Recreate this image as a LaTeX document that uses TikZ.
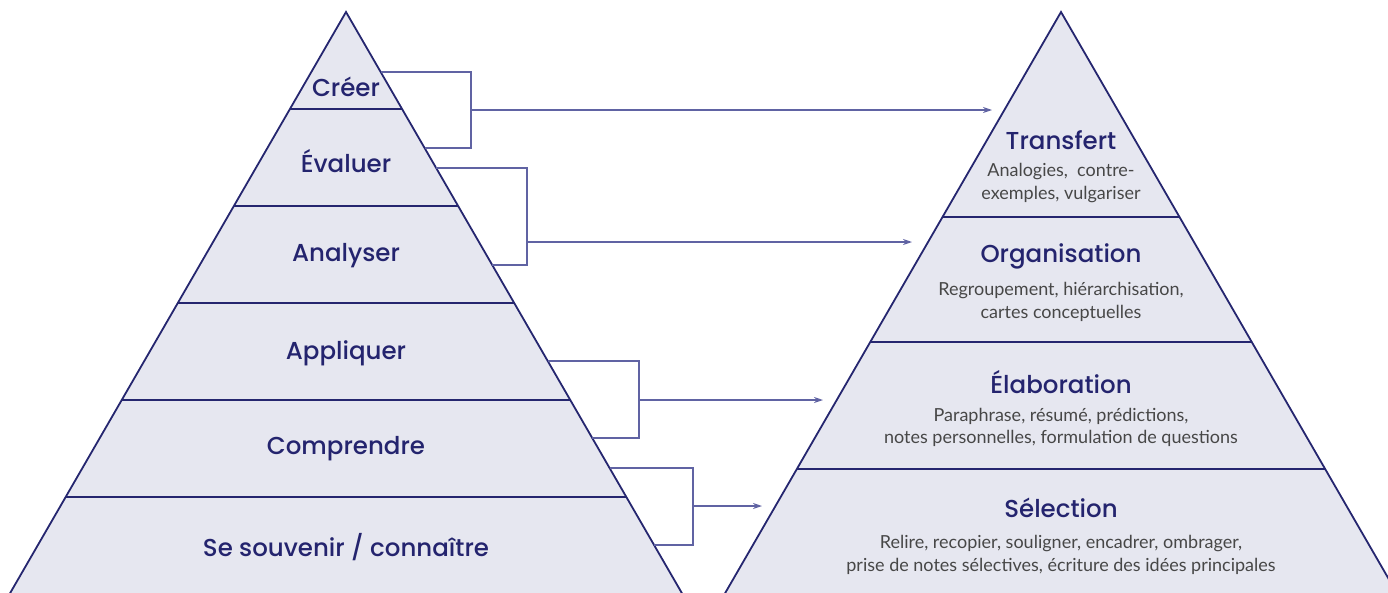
\documentclass[tikz,border=0pt]{standalone}
\usepackage{fontspec}
\setmainfont{Lato}
\newfontfamily\levelfont{Poppins Medium}
\usepackage{xcolor}
\usetikzlibrary{arrows.meta, calc}
\tikzset{>={Stealth[length=9pt, width=6pt]}}

\definecolor{pyramid_fill}{HTML}{E6E7F0}
\definecolor{pyramid_edge}{HTML}{25266F}
\definecolor{level_text}{HTML}{24246E}
\definecolor{desc_text}{HTML}{474747}
\definecolor{link_line}{HTML}{6063A3}

\def\slope{0.578}
\def\apextop{12}
\def\leftapex{346}
\def\rightapex{1061}
\def\pagewidth{1388}
\def\pagebottom{592}

\begin{document}
\begin{tikzpicture}[x=1pt, y=-1pt,
  pyramid/.style={fill=pyramid_fill, draw=pyramid_edge, line width=1.8pt, line join=miter},
  band/.style={draw=pyramid_edge, line width=1.6pt},
  link/.style={draw=link_line, line width=1.3pt},
  level/.style={font=\levelfont\fontsize{24.5}{24.5}\selectfont, text=level_text, inner sep=0pt},
  desc/.style={font=\fontsize{18}{22.5}\selectfont, text=desc_text, align=center, inner sep=0pt}]

\useasboundingbox (0,0) rectangle (\pagewidth,\pagebottom);

% Pyramids (cut by the page bottom)
\begin{scope}
\clip (0,0) rectangle (\pagewidth,\pagebottom);
\coordinate[](left_apex) at (\leftapex, \apextop) {};
\coordinate[](right_apex) at (\rightapex, \apextop) {};
\draw[pyramid] (left_apex) -- ({\leftapex - 600*\slope}, 612) -- ({\leftapex + 600*\slope}, 612) -- cycle;
\draw[pyramid] (right_apex) -- ({\rightapex - 600*\slope}, 612) -- ({\rightapex + 600*\slope}, 612) -- cycle;
\end{scope}

% Bands
\foreach \y in {109, 206, 303, 400, 497}{
    \pgfmathsetmacro{\half}{(\y - \apextop) * \slope}
    \draw[band] ({\leftapex - \half}, \y) -- ({\leftapex + \half}, \y);
}
\foreach \y in {217, 342, 469}{
    \pgfmathsetmacro{\half}{(\y - \apextop) * \slope}
    \draw[band] ({\rightapex - \half}, \y) -- ({\rightapex + \half}, \y);
}

% Left levels
\node[level](creer) at (\leftapex, 87) {Créer};
\node[level](evaluer) at (\leftapex, 161) {Évaluer};
\node[level](analyser) at (\leftapex, 256) {Analyser};
\node[level](appliquer) at (\leftapex, 353) {Appliquer};
\node[level](comprendre) at (\leftapex, 449) {Comprendre};
\node[level](souvenir) at (\leftapex, 547) {Se souvenir / connaître};

% Right levels
\node[level](transfert) at (\rightapex, 140) {Transfert};
\node[desc](transfert_desc) at (\rightapex, 183) {Analogies,\ \ contre-\\exemples, vulgariser};
\node[level](organisation) at (\rightapex, 256) {Organisation};
\node[desc](organisation_desc) at (\rightapex, 302) {Regroupement, hiérarchisation,\\cartes conceptuelles};
\node[level](elaboration) at (\rightapex, 382) {Élaboration};
\node[desc](elaboration_desc) at (\rightapex, 427.5) {Paraphrase, résumé, prédictions,\\notes personnelles, formulation de questions};
\node[level](selection) at (\rightapex, 508) {Sélection};
\node[desc](selection_desc) at (\rightapex, 555) {Relire, recopier, souligner, encadrer, ombrager,\\prise de notes sélectives, écriture des idées principales};

% Brackets: top y / bottom y / elbow x / arrow y / arrow end x
\foreach \top/\bottom/\elbow/\arrowy/\tip [count=\i] in {72/148/471/110/992, 168/265/527/242/912, 361/438/639/400/823, 468/545/693/506/762}{
    \coordinate[](bracket_top_\i) at ({\leftapex + (\top - \apextop) * \slope}, \top) {};
    \coordinate[](bracket_bottom_\i) at ({\leftapex + (\bottom - \apextop) * \slope}, \bottom) {};
    \coordinate[](bracket_elbow_\i) at (\elbow, \top) {};
    \coordinate[](bracket_mid_\i) at (\elbow, \arrowy) {};
    \coordinate[](arrow_end_\i) at (\tip, \arrowy) {};
    \draw[link] (bracket_top_\i) -- (bracket_elbow_\i) |- (bracket_bottom_\i);
    \draw[link, ->] (bracket_mid_\i) -- (arrow_end_\i);
}

\end{tikzpicture}
\end{document}
